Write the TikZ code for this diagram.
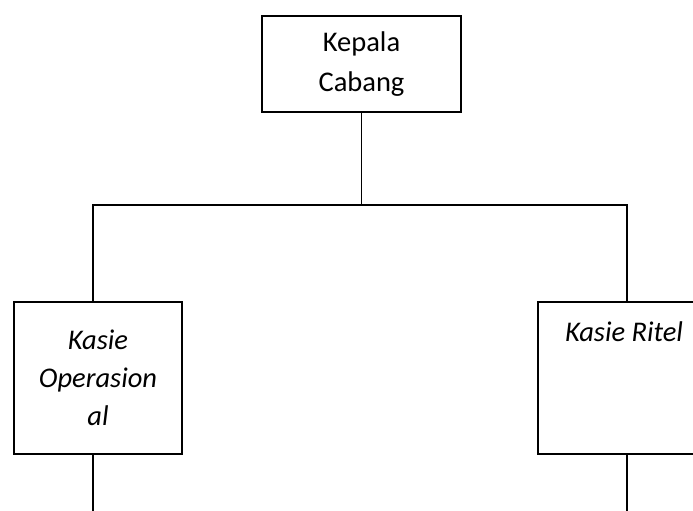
\documentclass[tikz,border=0pt]{standalone}
\usepackage{fontspec}
\setmainfont{Carlito}
\usetikzlibrary{positioning}

\begin{document}
\begin{tikzpicture}[x=1pt,y=-1pt,
  unit/.style={draw,line width=1.8pt,rectangle,inner sep=0pt,align=center,font=\fontsize{28}{38}\selectfont},
  link/.style={line width=1.6pt}]
\useasboundingbox (0,0) rectangle (693,511);
                      \node[unit,minimum width=199pt,minimum height=96pt,font=\fontsize{28.5}{40}\selectfont] (kc) at (361.5,64) {Kepala\\Cabang};
                      \node[unit,minimum width=168pt,minimum height=152pt,font=\fontsize{28.5}{38}\selectfont\itshape] (ops) at (98,378) {Kasie\\Operasion\\al};
                      \node[unit,minimum width=172pt,minimum height=152pt] (rtl) at (624,378) {};
                      \node[font=\fontsize{28.5}{38}\selectfont\itshape,anchor=base] (rtltxt) at (624,341) {Kasie Ritel};

                      \coordinate (busL) at (93,205);
                      \coordinate (busR) at (627,205);
                      \coordinate (endL) at (93,511);
                      \coordinate (endR) at (627,511);

                      \draw[link] (kc.south) -- (kc.south |- busL);
                      \draw[link] (busL |- ops.north) -- (busL) -- (busR) -- (busR |- rtl.north);
                      \draw[link] (busL |- ops.south) -- (endL);
                      \draw[link] (busR |- rtl.south) -- (endR);
\end{tikzpicture}
\end{document}
